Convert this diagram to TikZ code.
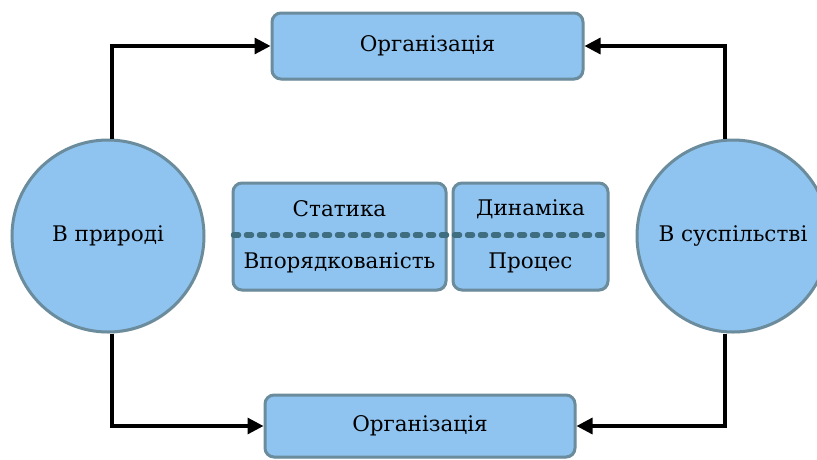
\documentclass[tikz,border=0pt]{standalone}
\usepackage{fontspec}
\setmainfont{DejaVu Serif}
\usetikzlibrary{arrows.meta,shadows}
\definecolor{boxfill}{HTML}{90C4F0}
\definecolor{boxline}{HTML}{6A8C9C}
\definecolor{dashline}{HTML}{3F6E80}
\begin{document}
\begin{tikzpicture}[x=1pt,y=-1pt,
    every node/.style={font=\fontsize{21.5}{25}\selectfont},
    org_box/.style={rectangle,rounded corners=9pt,draw=boxline,line width=3pt,fill=boxfill,
      drop shadow={opacity=0.25,shadow xshift=1pt,shadow yshift=-1.5pt},text=black},
    sphere_node/.style={circle,draw=boxline,line width=3pt,fill=boxfill,minimum size=192pt,
      drop shadow={opacity=0.25,shadow xshift=1pt,shadow yshift=-1.5pt},text=black},
    box_label/.style={text=black},
    link/.style={black,line width=3.2pt,-{Triangle[length=16pt,width=16pt]}},
    split_line/.style={dashline,line width=5.5pt,dash pattern=on 5pt off 8pt,line cap=round}]
  \useasboundingbox (0,0) rectangle (817,459);
\node[org_box,minimum width=311pt,minimum height=66pt] (top) at (427.5,46) {Організація};
\node[org_box,minimum width=310pt,minimum height=62pt] (bottom) at (420,426) {Організація};
\node[sphere_node] (nature) at (108,236) {В природі};
\node[sphere_node] (society) at (733,236) {В суспільстві};
\node[org_box,minimum width=213pt,minimum height=107pt] (static) at (339.5,236.5) {};
\node[org_box,minimum width=155pt,minimum height=107pt] (dynamic) at (530.5,236.5) {};
\node[box_label] (s1) at (339.5,209) {Статика};
\node[box_label] (s2) at (339.5,263) {Впорядкованість};
\node[box_label] (d1) at (530.5,209) {Динаміка};
\node[box_label] (d2) at (530.5,263) {Процес};
\draw[split_line] ([xshift=2pt,yshift=1.5pt]static.west) -- ([yshift=1.5pt]dynamic.east);
\draw[link] ([xshift=4pt]nature.north) |- (top.west);
\draw[link] ([xshift=-8pt]society.north) |- (top.east);
\draw[link] ([xshift=4pt]nature.south) |- (bottom.west);
\draw[link] ([xshift=-8pt]society.south) |- (bottom.east);
\end{tikzpicture}
\end{document}
